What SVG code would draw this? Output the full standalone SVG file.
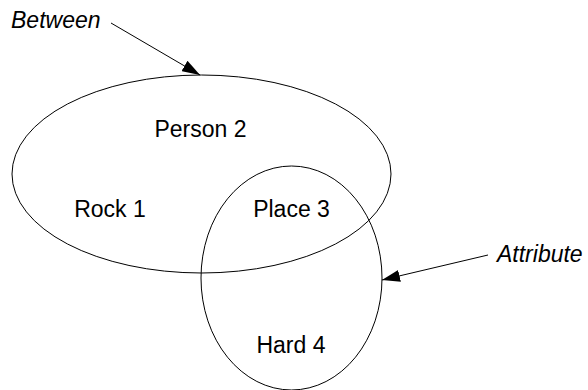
<svg xmlns="http://www.w3.org/2000/svg" width="588" height="390" viewBox="0 0 588 390">
  <style>
    .set { fill: none; stroke: #000; stroke-width: 1; }
    .lbl { font-family: "Liberation Sans", Arial, sans-serif; font-size: 23px; fill: #000; text-anchor: middle; }
    .tag { font-family: "Liberation Sans", Arial, sans-serif; font-size: 23px; font-style: italic; fill: #000; }
    .ptr { stroke: #000; stroke-width: 1; fill: none; }
  </style>
  <defs>
    <marker id="head" viewBox="0 0 18 12" refX="18" refY="6" markerWidth="18" markerHeight="12" markerUnits="userSpaceOnUse" orient="auto">
      <path d="M0,0 L18,6 L0,12 Z" fill="#000"/>
    </marker>
  </defs>
  <rect width="588" height="390" fill="#fff"/>

  <g id="between-set">
    <ellipse class="set" cx="201.5" cy="174" rx="189.5" ry="99"/>
  </g>
  <g id="attribute-set">
    <ellipse class="set" cx="291.5" cy="278" rx="90.5" ry="112"/>
  </g>

  <g id="rock">
    <text class="lbl" x="110" y="217">Rock 1</text>
  </g>
  <g id="person">
    <text class="lbl" x="200.5" y="137">Person 2</text>
  </g>
  <g id="place">
    <text class="lbl" x="291.5" y="217">Place 3</text>
  </g>
  <g id="hard">
    <text class="lbl" x="291" y="353">Hard 4</text>
  </g>

  <g id="between-tag">
    <text class="tag" x="11" y="28">Between</text>
  </g>
  <g id="attribute-tag">
    <text class="tag" x="497" y="262">Attribute</text>
  </g>

  <g id="connectors">
    <line class="ptr" x1="111" y1="23" x2="200" y2="75" marker-end="url(#head)"/>
    <line class="ptr" x1="488" y1="255" x2="382" y2="280" marker-end="url(#head)"/>
  </g>
</svg>
